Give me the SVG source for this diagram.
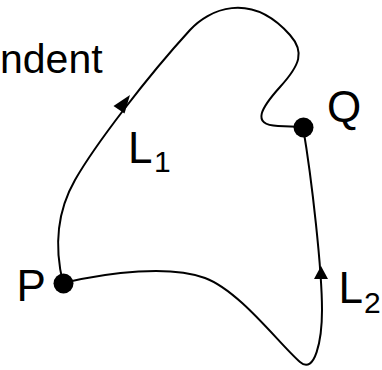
<svg xmlns="http://www.w3.org/2000/svg" width="382" height="370" viewBox="0 0 382 370">
<style>
.t{font-family:"Liberation Sans",Arial,sans-serif;fill:#000}
.big{font-size:44px}
.sub{font-size:30px}
.c{fill:none;stroke:#000;stroke-width:2}
.a{fill:#000}
</style>
<rect width="382" height="370" fill="#fff"/>
<text class="t" x="0" y="73" font-size="41">ndent</text>
<g id="connectors">
<path id="L1" class="c" d="M63,283 C55,250 55,215 75,180 C95,145 147,77 190,30 C208,10 250,-10 290,35 C305,52 300,65 280,87 C262,107 250,125 278,126 L303,127"/>
<path id="L2" class="c" d="M63,283 C110,272 170,265 205,278 C240,291 280,345 300,362 C315,375 322,340 322,310 C322,270 312,180 303,127"/>
<polygon class="a" points="130,95 113.5,106 124.5,113.5"/>
<polygon class="a" points="321,266 314,279 328,279"/>
</g>
<g id="P"><circle cx="63.5" cy="283.5" r="10" fill="#000"/><text class="t big" x="16.5" y="301">P</text></g>
<g id="Q"><circle cx="303.5" cy="127.5" r="10" fill="#000"/><text class="t big" x="327" y="122">Q</text></g>
<g id="L1label"><text class="t big" x="128" y="162.5">L</text><text class="t sub" x="154" y="171.5">1</text></g>
<g id="L2label"><text class="t big" x="338.5" y="303">L</text><text class="t sub" x="364" y="313">2</text></g>
</svg>
